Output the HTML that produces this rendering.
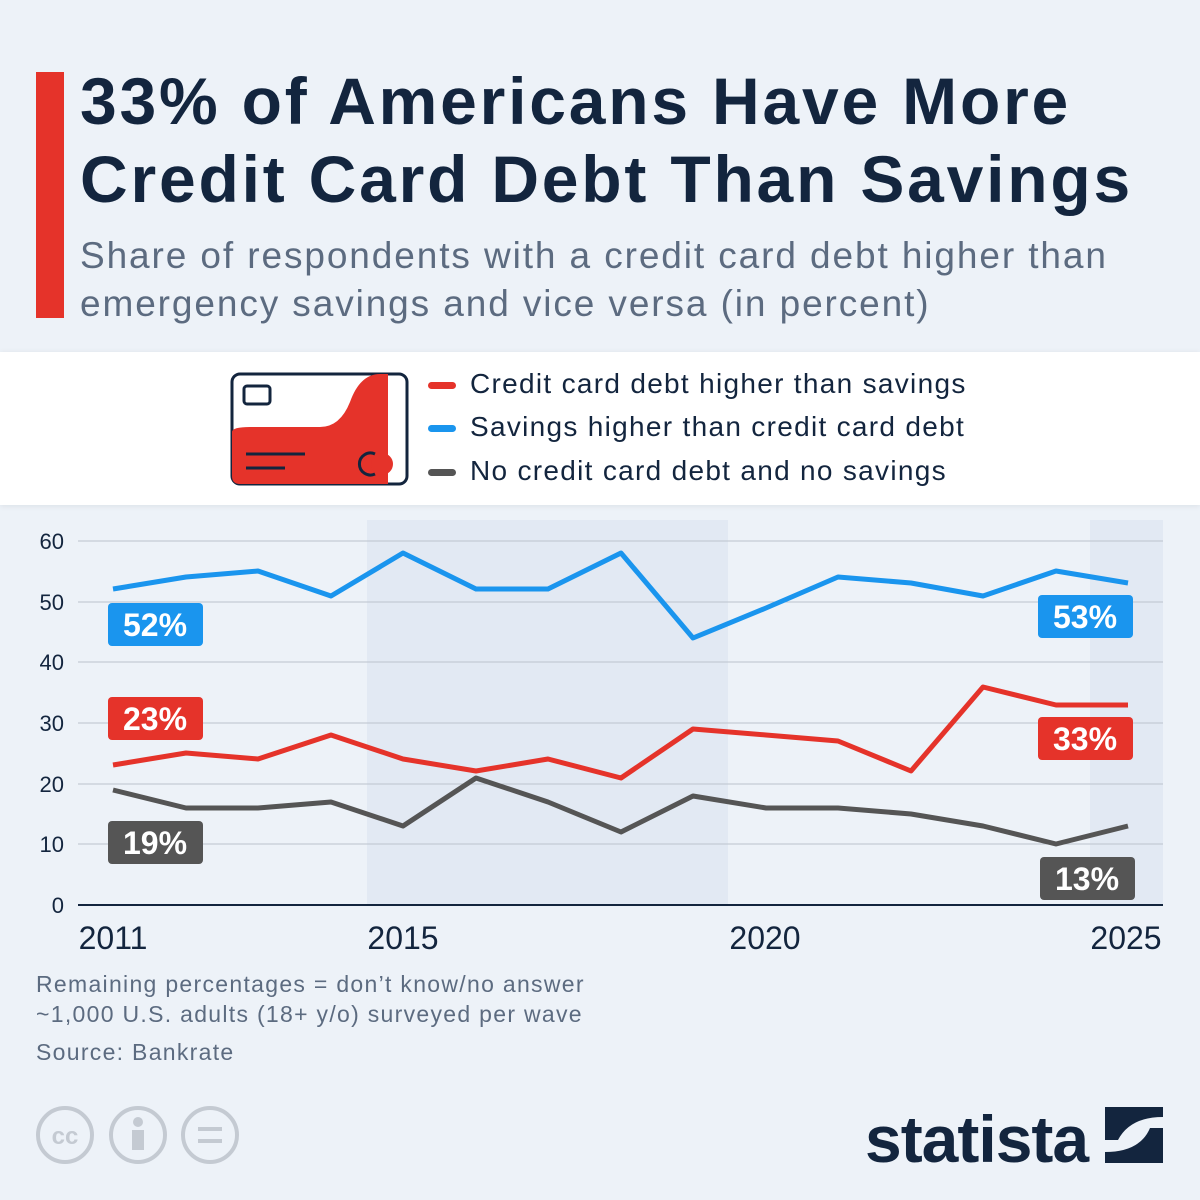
<!DOCTYPE html>
<html><head><meta charset="utf-8"><style>
body{margin:0;width:1200px;height:1200px;background:#edf2f8;font-family:"Liberation Sans","DejaVu Sans",sans-serif;position:relative;overflow:hidden}
.t{position:absolute;left:80px;top:62px;font-size:66px;font-weight:bold;color:#13253e;line-height:78px;letter-spacing:2.8px}
.s{position:absolute;left:80px;top:232px;font-size:37px;color:#5c6b80;line-height:48px;letter-spacing:1.9px}
.bar{position:absolute;left:36px;top:72px;width:28px;height:246px;background:#e5332a}
.leg{position:absolute;left:0;top:352px;width:1200px;height:153px;background:#fff;box-shadow:0 1px 6px rgba(0,0,0,.08)}
.li{position:absolute;left:428px;font-size:28px;color:#13253e;letter-spacing:1.3px}
.li i{display:inline-block;width:28px;height:7px;border-radius:4px;vertical-align:middle;margin-right:14px}
.f{position:absolute;left:36px;font-size:23px;color:#5c6b80;letter-spacing:1.3px}
</style></head><body>
<div class="bar"></div>
<div class="t">33% of Americans Have More<br>Credit Card Debt Than Savings</div>
<div class="s">Share of respondents with a credit card debt higher than<br>emergency savings and vice versa (in percent)</div>
<div class="leg">
<svg style="position:absolute;left:230px;top:20px" width="180" height="114">
<rect x="2" y="2" width="175" height="110" rx="8" fill="#fff" stroke="#13253e" stroke-width="3"/>
<path d="M2 60 Q2 55 20 55 L90 55 Q110 55 120 30 Q130 2 150 2 L158 2 L158 112 L10 112 Q2 112 2 104Z" fill="#e5332a"/>
<rect x="14" y="14" width="26" height="18" rx="3" fill="none" stroke="#13253e" stroke-width="3"/>
<line x1="16" y1="82" x2="75" y2="82" stroke="#13253e" stroke-width="3"/><line x1="16" y1="96" x2="55" y2="96" stroke="#13253e" stroke-width="3"/>
<circle cx="152" cy="92" r="11" fill="#e5332a"/><path d="M145 82 A11 11 0 1 0 145 102" fill="none" stroke="#13253e" stroke-width="3"/>
</svg>
<div class="li" style="top:16px"><i style="background:#e5332a"></i>Credit card debt higher than savings</div>
<div class="li" style="top:59px"><i style="background:#1a95ee"></i>Savings higher than credit card debt</div>
<div class="li" style="top:103px"><i style="background:#555"></i>No credit card debt and no savings</div>
</div>
<svg style="position:absolute;left:0;top:0" width="1200" height="1200" font-family="Liberation Sans,sans-serif">
<rect x="367" y="520" width="361" height="386" fill="#e2e9f3"/>
<rect x="1090" y="520" width="73" height="386" fill="#e2e9f3"/>
<g stroke="#bcc3cc" stroke-width="1">
<line x1="78" y1="541" x2="1163" y2="541"/><line x1="78" y1="602" x2="1163" y2="602"/><line x1="78" y1="662" x2="1163" y2="662"/><line x1="78" y1="723" x2="1163" y2="723"/><line x1="78" y1="784" x2="1163" y2="784"/><line x1="78" y1="844" x2="1163" y2="844"/></g>
<line x1="78" y1="905" x2="1163" y2="905" stroke="#13253e" stroke-width="2"/>
<g font-size="22" fill="#13253e" text-anchor="end"><text x="64" y="549">60</text><text x="64" y="610">50</text><text x="64" y="670">40</text><text x="64" y="731">30</text><text x="64" y="792">20</text><text x="64" y="852">10</text><text x="64" y="913">0</text></g>
<g font-size="32" fill="#13253e" text-anchor="middle"><text x="113" y="949">2011</text><text x="403" y="949">2015</text><text x="765" y="949">2020</text><text x="1126" y="949">2025</text></g>
<g fill="none" stroke-width="5" stroke-linejoin="round">
<polyline stroke="#1a95ee" points="113,589 186,577 258,571 331,596 403,553 476,589 548,589 621,553 693,638 766,608 838,577 911,583 983,596 1056,571 1128,583"/>
<polyline stroke="#e5332a" points="113,765 186,753 258,759 331,735 403,759 476,771 548,759 621,778 693,729 766,735 838,741 911,771 983,687 1056,705 1128,705"/>
<polyline stroke="#555" points="113,790 186,808 258,808 331,802 403,826 476,778 548,802 621,832 693,796 766,808 838,808 911,814 983,826 1056,844 1128,826"/>
</g>
<g font-size="32" font-weight="bold" fill="#fff" text-anchor="middle">
<rect x="108" y="603" width="95" height="43" rx="4" fill="#1a95ee"/><text x="155" y="636">52%</text>
<rect x="1038" y="595" width="95" height="43" rx="4" fill="#1a95ee"/><text x="1085" y="628">53%</text>
<rect x="108" y="697" width="95" height="43" rx="4" fill="#e5332a"/><text x="155" y="730">23%</text>
<rect x="1038" y="717" width="95" height="43" rx="4" fill="#e5332a"/><text x="1085" y="750">33%</text>
<rect x="108" y="821" width="95" height="43" rx="4" fill="#555"/><text x="155" y="854">19%</text>
<rect x="1040" y="857" width="95" height="43" rx="4" fill="#555"/><text x="1087" y="890">13%</text>
</g>
<g fill="none" stroke="#c4cad2" stroke-width="4"><circle cx="65" cy="1135" r="27"/><circle cx="138" cy="1135" r="27"/><circle cx="210" cy="1135" r="27"/></g>
<text x="65" y="1144" font-size="24" font-weight="bold" fill="#c4cad2" text-anchor="middle">cc</text>
<circle cx="138" cy="1122" r="5" fill="#c4cad2"/><rect x="132" y="1130" width="12" height="20" fill="#c4cad2"/>
<rect x="198" y="1127" width="24" height="4" fill="#c4cad2"/><rect x="198" y="1139" width="24" height="4" fill="#c4cad2"/>
<text x="865" y="1162" font-size="66" font-weight="bold" fill="#13253e" letter-spacing="-1">statista</text>
<path d="M1105 1107 L1163 1107 L1163 1117 Q1130 1117 1118 1140 L1105 1140Z M1163 1163 L1105 1163 L1105 1152 Q1140 1152 1150 1128 L1163 1128Z" fill="#13253e"/>
</svg>
<div class="f" style="top:971px">Remaining percentages = don’t know/no answer</div>
<div class="f" style="top:1001px">~1,000 U.S. adults (18+ y/o) surveyed per wave</div>
<div class="f" style="top:1039px">Source: Bankrate</div>
</body></html>
